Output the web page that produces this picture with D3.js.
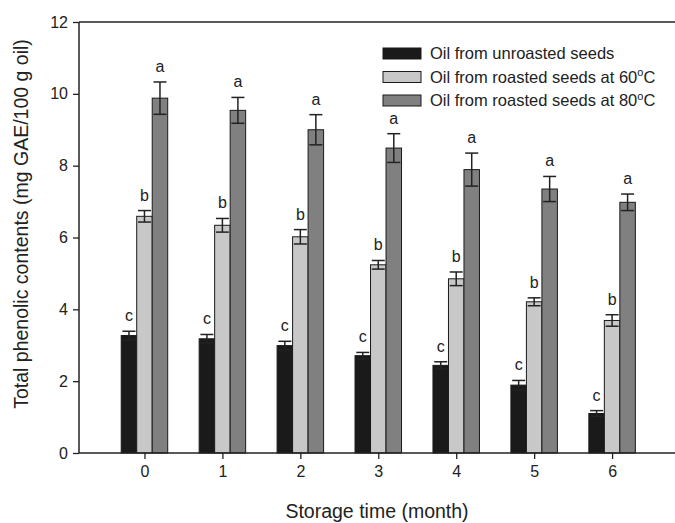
<!DOCTYPE html>
<html>
<head>
<meta charset="utf-8">
<script src="https://cdn.jsdelivr.net/npm/d3@7"></script>
<style>
  html, body { margin: 0; padding: 0; background: #fff; }
  svg { display: block; font-family: "Liberation Sans", Arial, sans-serif; }
</style>
</head>
<body>
<svg id="chart" width="675" height="523"></svg>
<script>
// ---- data ----
const months = [0, 1, 2, 3, 4, 5, 6];
const unroasted    = [3.27, 3.18, 2.99, 2.71, 2.44, 1.89, 1.10];
const unroastedErr = [0.12, 0.12, 0.12, 0.09, 0.10, 0.13, 0.08];
const roasted60    = [6.59, 6.34, 6.02, 5.24, 4.85, 4.21, 3.69];
const roasted60Err = [0.16, 0.19, 0.20, 0.12, 0.19, 0.11, 0.16];
const roasted80    = [9.88, 9.54, 9.00, 8.49, 7.89, 7.35, 6.98];
const roasted80Err = [0.45, 0.36, 0.42, 0.40, 0.46, 0.35, 0.23];
const seriesNames  = ["Oil from unroasted seeds", "Oil from roasted seeds at 60", "Oil from roasted seeds at 80"];
const seriesLetters = ["c", "b", "a"];
const yTicks = [0, 2, 4, 6, 8, 10, 12];
const xTitle = "Storage time (month)";
const yTitle = "Total phenolic contents (mg GAE/100 g oil)";

(function () {
const colors = ["#1a1a1a", "#c8c8c8", "#808080"];
const seriesVals = [unroasted, roasted60, roasted80];
const seriesErrs = [unroastedErr, roasted60Err, roasted80Err];

const svg = d3.select("#chart");
const pLeft = 79, pRight = 676, pTop = 22, pBottom = 453;

const x = d3.scaleLinear().domain([-0.84, 6.82]).range([pLeft, pRight]);
const y = d3.scaleLinear().domain([0, 12]).range([pBottom, pTop]);
const inner = d3.scaleBand().domain([0, 1, 2]).range([-23.25, 23.25]).padding(0);
const bw = inner.bandwidth();

const textColor = "#222";

// bars
seriesVals.forEach((vals, s) => {
  const g = svg.append("g");
  g.selectAll("rect").data(months).join("rect")
    .attr("x", (m, i) => x(m) + inner(s))
    .attr("y", (m, i) => y(vals[i]))
    .attr("width", bw)
    .attr("height", (m, i) => y(0) - y(vals[i]))
    .attr("fill", colors[s])
    .attr("stroke", "#1a1a1a")
    .attr("stroke-width", 1);
});

// error bars and letters
seriesVals.forEach((vals, s) => {
  const errs = seriesErrs[s];
  const g = svg.append("g").attr("stroke", "#222").attr("stroke-width", 1.5).attr("fill", "none");
  const cap = 6.5;
  months.forEach((m, i) => {
    const cx = x(m) + inner(s) + bw / 2;
    const y1 = y(vals[i] + errs[i]), y2 = y(vals[i] - errs[i]);
    g.append("line").attr("x1", cx).attr("x2", cx).attr("y1", y1).attr("y2", y2);
    g.append("line").attr("x1", cx - cap).attr("x2", cx + cap).attr("y1", y1).attr("y2", y1);
    g.append("line").attr("x1", cx - cap).attr("x2", cx + cap).attr("y1", y2).attr("y2", y2);
    svg.append("text")
      .attr("x", cx)
      .attr("y", y1 - 10)
      .attr("text-anchor", "middle")
      .attr("font-size", 16)
      .attr("fill", textColor)
      .text(seriesLetters[s]);
  });
});

// axes
const yAxis = d3.axisLeft(y).tickValues(yTicks).tickSize(6).tickPadding(5).tickFormat(d3.format("d"));
const xAxis = d3.axisBottom(x).tickValues(months).tickSize(6).tickPadding(7).tickFormat(d3.format("d"));

const ga = svg.append("g").attr("transform", `translate(${pLeft},0)`).call(yAxis);
const gb = svg.append("g").attr("transform", `translate(0,${pBottom})`).call(xAxis);
[ga, gb].forEach(g => {
  g.select(".domain").remove();
  g.selectAll(".tick line").attr("stroke", "#222").attr("stroke-width", 1.3);
  g.selectAll(".tick text").attr("font-size", 16).attr("fill", textColor)
    .attr("font-family", "Liberation Sans, Arial, sans-serif");
});

// frame lines (left, bottom, top)
svg.append("line").attr("x1", pLeft).attr("x2", pLeft).attr("y1", pTop).attr("y2", pBottom)
  .attr("stroke", "#222").attr("stroke-width", 1.5);
svg.append("line").attr("x1", pLeft).attr("x2", 675).attr("y1", pBottom).attr("y2", pBottom)
  .attr("stroke", "#222").attr("stroke-width", 1.5);
svg.append("line").attr("x1", pLeft).attr("x2", 675).attr("y1", pTop).attr("y2", pTop)
  .attr("stroke", "#222").attr("stroke-width", 1.5);

// titles
svg.append("text")
  .attr("x", 377).attr("y", 518)
  .attr("text-anchor", "middle").attr("font-size", 19.5).attr("fill", textColor)
  .text(xTitle);
svg.append("text")
  .attr("transform", "translate(28,224) rotate(-90)")
  .attr("text-anchor", "middle").attr("font-size", 19.5).attr("fill", textColor)
  .text(yTitle);

// legend
const leg = svg.append("g").attr("transform", "translate(383,48)");
seriesNames.forEach((name, s) => {
  const row = leg.append("g").attr("transform", `translate(0,${s * 23.5})`);
  row.append("rect").attr("x", 0).attr("y", 0).attr("width", 38).attr("height", 11)
    .attr("fill", colors[s]).attr("stroke", "#1a1a1a").attr("stroke-width", 1);
  const t = row.append("text").attr("x", 47).attr("y", 11).attr("font-size", 16.5).attr("fill", textColor);
  t.append("tspan").text(name);
  if (s > 0) {
    t.append("tspan").attr("dy", -6.5).attr("font-size", 11).text("o");
    t.append("tspan").attr("dy", 6.5).text("C");
  }
});
})();
</script>
</body>
</html>
